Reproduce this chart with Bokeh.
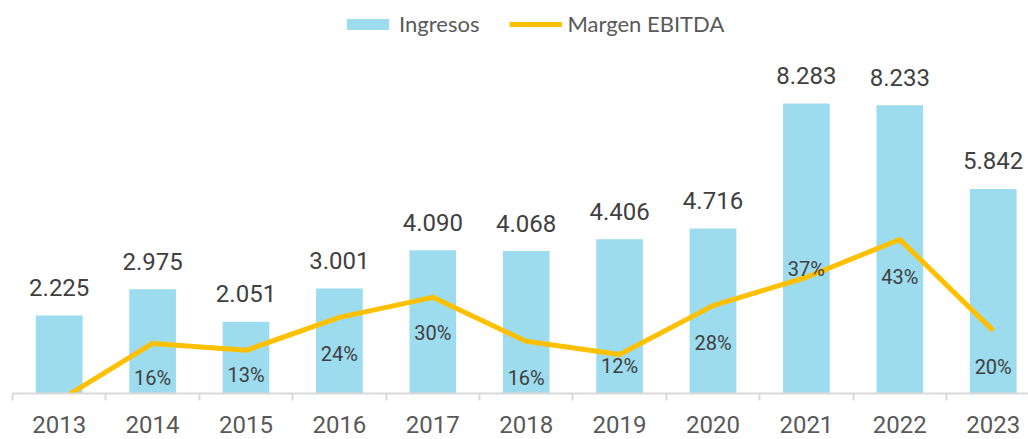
from bokeh.plotting import figure
from bokeh.models import (Range1d, LinearAxis, FixedTicker, Legend, LegendItem,
                          ColumnDataSource)
from bokeh.core.properties import value
from bokeh.embed import file_html
from bokeh.resources import INLINE

# ---- data ----
years = ["2013", "2014", "2015", "2016", "2017", "2018", "2019", "2020", "2021", "2022", "2023"]
ingresos = [2225, 2975, 2051, 3001, 4090, 4068, 4406, 4716, 8283, 8233, 5842]
margen_ebitda = [-0.6, 15.9, 13.9, 23.4, 29.2, 16.5, 12.7, 26.8, 35.0, 45.9, 19.6]
margen_labels = ["", "16%", "13%", "24%", "30%", "16%", "12%", "28%", "37%", "43%", "20%"]

# ---- styling (label offsets from points, px, positive = down) ----
pct_label_dy = [0, 35, 25, 37, 36, 37, 12, 37, -8, 38, 36]

BAR = "#9DDBEE"
LINE = "#FFC000"

xs = list(range(len(years)))
ing_text = ["{:,}".format(v).replace(",", ".") for v in ingresos]

src = ColumnDataSource(dict(x=xs, ing=ingresos, ing_text=ing_text,
                            m=margen_ebitda, m_text=margen_labels, dy=pct_label_dy))

p = figure(width=1028, height=439, output_backend="svg", toolbar_location=None,
           x_range=Range1d(-0.5, 10.378), y_range=Range1d(0, 10940),
           min_border_left=12, min_border_right=0, min_border_top=10, min_border_bottom=46,
           x_axis_location=None, y_axis_location=None)
p.outline_line_color = None
p.xgrid.visible = False
p.ygrid.visible = False
p.extra_y_ranges = {"pct": Range1d(1.44, 112.0)}

bars = p.vbar(x="x", top="ing", width=0.5, source=src, fill_color=BAR, line_color=None)
line = p.line(x="x", y="m", source=src, line_color=LINE, line_width=5,
              line_join="round", y_range_name="pct")

p.text(x="x", y="ing", text="ing_text", source=src, y_offset=-28,
       text_align="center", text_baseline="middle", text_font=value("Roboto"),
       text_font_size="24px", text_color="#404040")
p.text(x="x", y="m", text="m_text", source=src, y_offset="dy", y_range_name="pct",
       text_align="center", text_baseline="middle", text_font=value("Roboto"),
       text_font_size="20px", text_color="#404040")

xaxis = LinearAxis(ticker=FixedTicker(ticks=xs, minor_ticks=[i - 0.5 for i in range(len(years) + 1)]),
                   major_label_overrides={i: y for i, y in enumerate(years)})
xaxis.axis_line_color = "#D9D9D9"
xaxis.axis_line_width = 2
xaxis.major_tick_line_color = None
xaxis.major_tick_out = 0
xaxis.major_tick_in = 0
xaxis.minor_tick_out = 7
xaxis.minor_tick_in = 0
xaxis.minor_tick_line_color = "#D9D9D9"
xaxis.minor_tick_line_width = 2
xaxis.major_label_text_font = "Roboto"
xaxis.major_label_text_font_size = "24px"
xaxis.major_label_text_color = "#595959"
xaxis.major_label_standoff = 15
p.add_layout(xaxis, "below")

legend = Legend(items=[LegendItem(label="Ingresos", renderers=[bars]),
                       LegendItem(label="Margen EBITDA", renderers=[line])],
                orientation="horizontal", location=(329, 356),
                glyph_width=53, glyph_height=14, label_height=22,
                label_standoff=5, spacing=30, padding=0, margin=0,
                border_line_color=None, background_fill_alpha=0,
                label_text_font="Lato", label_text_font_size="22px",
                label_text_color="#595959")
p.add_layout(legend)

open("out.html", "w").write(file_html(p, INLINE))
